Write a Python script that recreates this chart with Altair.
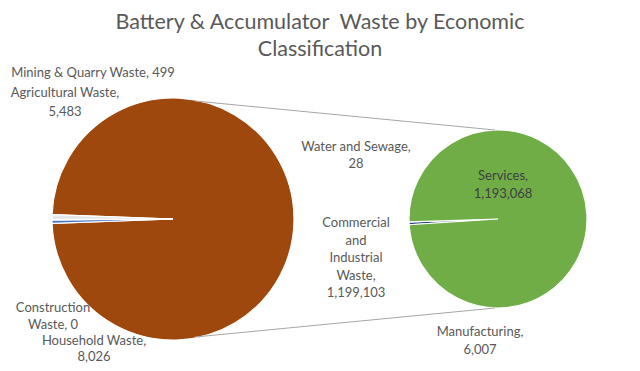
import math
import altair as alt
import pandas as pd

# ---- data ----
main_categories = ["Commercial and Industrial Waste", "Agricultural Waste",
                   "Mining & Quarry Waste", "Construction Waste", "Household Waste"]
main_values = [1199103, 5483, 499, 0, 8026]
main_colors = ["#9E480E", "#4472C4", "#ED7D31", "#A5A5A5", "#E7E6E6"]

sub_categories = ["Manufacturing", "Water and Sewage", "Services"]
sub_values = [6007, 28, 1193068]
sub_colors = ["#264478", "#5B9BD5", "#70AD47"]

title_lines = ["Battery & Accumulator\u00a0 Waste by Economic", "Classification"]

# ---- layout (page coordinates; page margin is 8px) ----
M = 8
MAIN_C = (173, 219)
MAIN_R = 121
SUB_C = (498, 219)
SUB_R = 89
TEXT = "#595959"
FONT = "Lato"

main_df = pd.DataFrame({"cat": main_categories, "val": main_values,
                        "ord": list(range(len(main_values)))})
sub_df = pd.DataFrame({"cat": sub_categories, "val": sub_values,
                       "ord": list(range(len(sub_values)))})

# Main pie: "other" slice centred on 3 o'clock
tot = sum(main_values)
other_deg = main_values[0] / tot * 360
main_start = math.radians(90 - other_deg / 2)
# Secondary pie: small slices just below 9 o'clock
sub_start = math.radians(266.3)

main_pie = alt.Chart(main_df).mark_arc(
    outerRadius=MAIN_R, stroke="white", strokeWidth=1.2
).encode(
    theta=alt.Theta("val:Q", stack=True,
                    scale=alt.Scale(range=[main_start, main_start + 2 * math.pi])),
    order=alt.Order("ord:Q"),
    color=alt.Color("cat:N", scale=alt.Scale(domain=main_categories, range=main_colors),
                    legend=None),
    x=alt.value(MAIN_C[0] - M), y=alt.value(MAIN_C[1] - M),
)

sub_pie = alt.Chart(sub_df).mark_arc(
    outerRadius=SUB_R, stroke="white", strokeWidth=1.2
).encode(
    theta=alt.Theta("val:Q", stack=True,
                    scale=alt.Scale(range=[sub_start, sub_start + 2 * math.pi])),
    order=alt.Order("ord:Q"),
    color=alt.Color("cat:N", scale=alt.Scale(domain=sub_categories, range=sub_colors),
                    legend=None),
    x=alt.value(SUB_C[0] - M), y=alt.value(SUB_C[1] - M),
)

def connector(p1, p2):
    return alt.Chart(pd.DataFrame({"a": [0]})).mark_rule(
        color="#A6A6A6", strokeWidth=1
    ).encode(x=alt.value(p1[0] - M), y=alt.value(p1[1] - M),
             x2=alt.value(p2[0] - M), y2=alt.value(p2[1] - M))

lines = [connector((195, 101), (495, 130)), connector((195, 337), (495, 308))]

def fmt(v):
    return f"{v:,}"

main_map = dict(zip(main_categories, main_values))
sub_map = dict(zip(sub_categories, sub_values))

# (lines, centre of first line, colour, line height)
label_specs = [
    ([f"Mining & Quarry Waste, {fmt(main_map['Mining & Quarry Waste'])}"], (93, 73), TEXT, 17.5),
    (["Agricultural Waste,", fmt(main_map["Agricultural Waste"])], (65, 93), TEXT, 18.5),
    (["Construction", f"Waste, {fmt(main_map['Construction Waste'])}"], (53, 308), TEXT, 17),
    (["Household Waste,", fmt(main_map["Household Waste"])], (94, 341), TEXT, 16),
    (["Water and Sewage,", fmt(sub_map["Water and Sewage"])], (356, 147), TEXT, 16.5),
    (["Commercial", "and", "Industrial", "Waste,",
      fmt(main_map["Commercial and Industrial Waste"])], (356, 223), TEXT, 17.5),
    (["Services,", fmt(sub_map["Services"])], (503, 176), "#404040", 17.5),
    (["Manufacturing,", fmt(sub_map["Manufacturing"])], (480, 332), TEXT, 17.5),
]

def text_layer(lines_, pos, color, lh, size=13):
    return alt.Chart(pd.DataFrame({"a": [0]})).mark_text(
        align="center", baseline="middle", font=FONT, fontSize=size,
        color=color, lineHeight=lh
    ).encode(x=alt.value(pos[0] - M), y=alt.value(pos[1] - M),
             text=alt.value(lines_))

labels = [text_layer(l, p, c, lh) for l, p, c, lh in label_specs]
title = text_layer(title_lines, (320, 23), TEXT, 27, size=21.5)

chart = alt.layer(main_pie, sub_pie, *lines, *labels, title).resolve_scale(
    theta="independent", color="independent"
).properties(
    width=624, height=355, padding=0,
    autosize=alt.AutoSizeParams(type="none"),
).configure_view(stroke=None)

chart.save("out.html", embed_options={"renderer": "svg", "actions": False})
